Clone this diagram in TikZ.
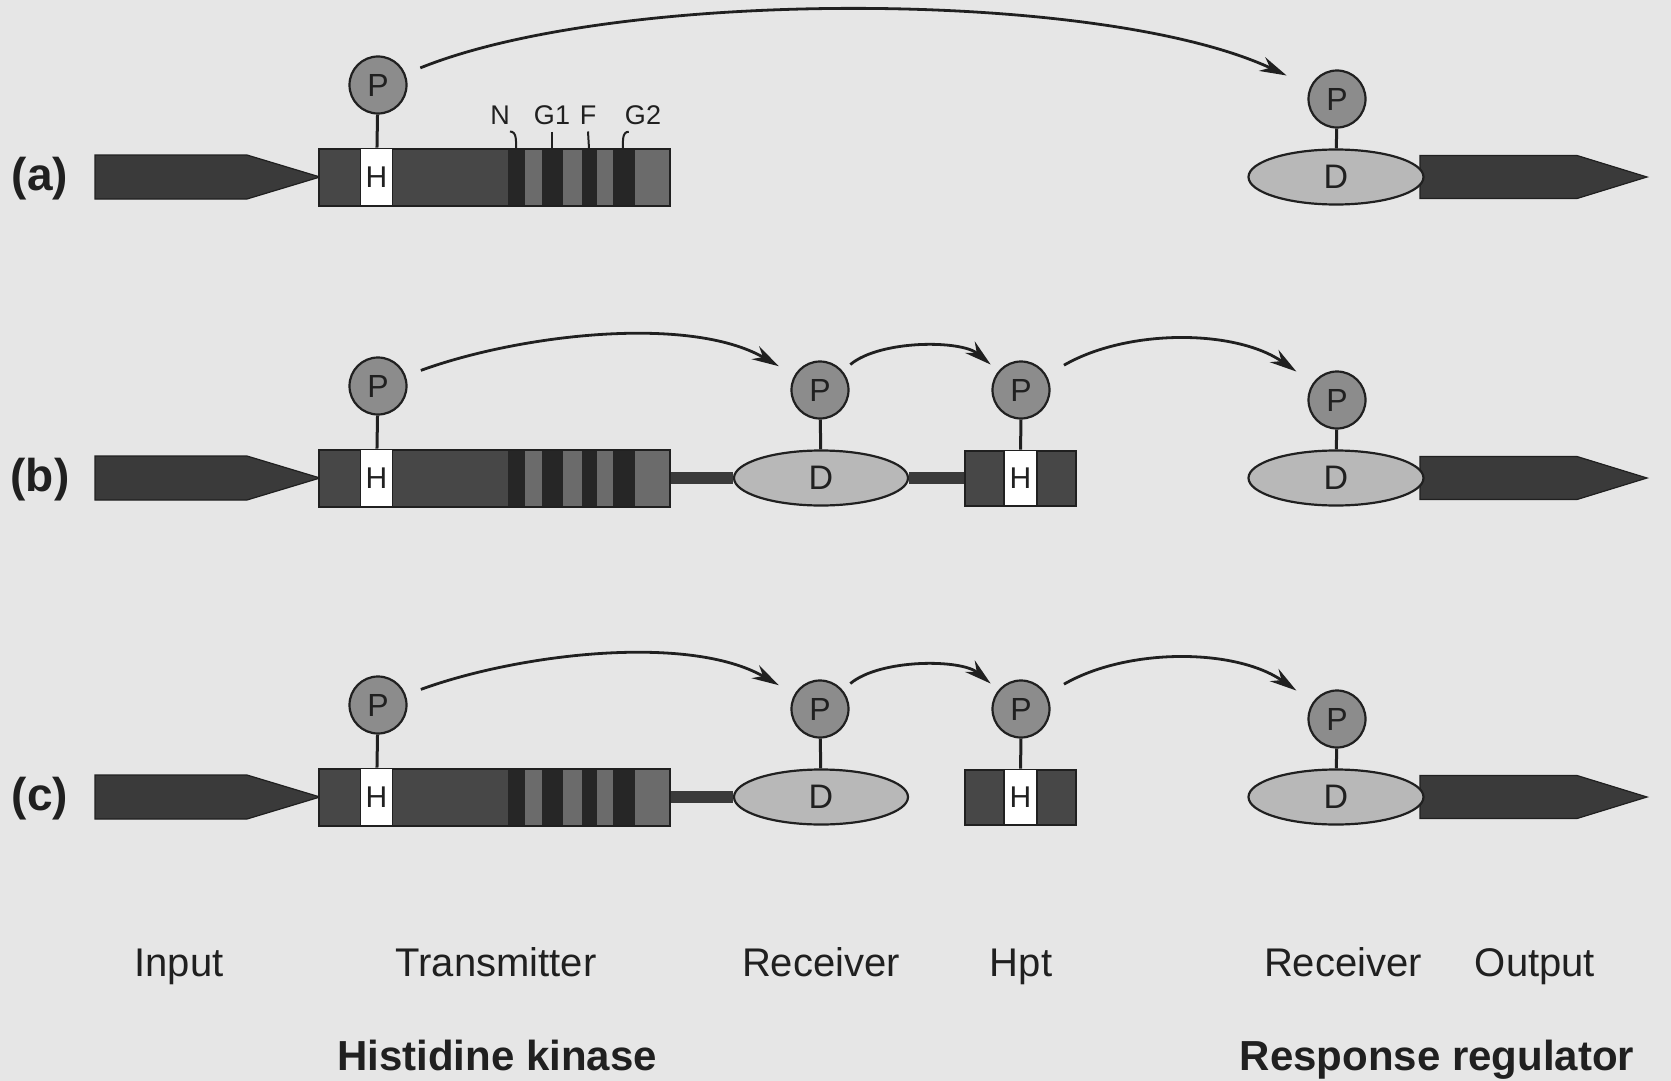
\documentclass[tikz,border=0pt]{standalone}
\usepackage{fontspec}
\setmainfont{Liberation Sans}
\usetikzlibrary{arrows.meta,shapes.geometric}
\definecolor{paper}{HTML}{E6E6E6}
\definecolor{ink}{HTML}{202020}
\definecolor{dkgrey}{HTML}{3A3A3A}
\definecolor{tmgrey}{HTML}{474747}
\definecolor{bandD}{HTML}{262626}
\definecolor{bandL}{HTML}{6B6B6B}
\definecolor{phosgrey}{HTML}{8C8C8C}
\definecolor{recvgrey}{HTML}{B8B8B8}

\begin{document}
\begin{tikzpicture}[
  x=1pt, y=1pt,
  every node/.style={text=ink},
  phos/.style={circle, draw=ink, line width=2.2pt, fill=phosgrey,
    minimum size=57pt, inner sep=0pt, font=\fontsize{32}{32}\selectfont},
  recv/.style={ellipse, draw=ink, line width=2.2pt, fill=recvgrey,
    minimum width=174pt, minimum height=55pt, inner sep=0pt,
    font=\fontsize{34}{34}\selectfont},
  tmbox/.style={rectangle, draw=ink, line width=2pt, fill=tmgrey,
    minimum width=351pt, minimum height=57pt, inner sep=0pt},
  hptbox/.style={tmbox, minimum width=111pt, minimum height=55pt},
  hbox/.style={rectangle, draw=ink, line width=1.8pt, fill=white,
    minimum width=32pt, minimum height=57pt, inner sep=0pt,
    font=\fontsize{30}{30}\selectfont},
  stem/.style={ink, line width=3pt},
  tick/.style={ink, line width=2pt},
  linker/.style={dkgrey, line width=12pt},
  flow/.style={ink, line width=2.8pt, -{Stealth[length=27pt,width=15pt]}},
  motif/.style={inner sep=0pt, font=\fontsize{27}{27}\selectfont},
  domlabel/.style={anchor=base, font=\fontsize{40}{44}\selectfont},
  grplabel/.style={anchor=base, font=\bfseries\fontsize{42}{46}\selectfont},
  rowlabel/.style={font=\bfseries\fontsize{46}{50}\selectfont}
]
\useasboundingbox (0,0) rectangle (1671,-1081);
\fill[paper] (0,0) rectangle (1671,-1081);

% Input, transmitter and response regulator, same in every row.
\foreach \r/\y in {a/-177,b/-478,c/-797}{
  \node[rowlabel] (lab\r) at (40,\y-2) {(\r)};
  \filldraw[fill=dkgrey, draw=ink, line width=1.2pt] (95,\y+22) -- (247,\y+22)
    -- (320,\y) -- (247,\y-22) -- (95,\y-22) -- cycle;
  \node[tmbox] (T\r) at (494.5,\y) {};
  \foreach \xa/\xb/\bc in {508/525/bandD, 525/542/bandL, 542/563/bandD,
      563/582/bandL, 582/597/bandD, 597/613/bandL, 613/635/bandD, 635/669/bandL}
    \fill[\bc] (\xa,\y-27.5) rectangle (\xb,\y+27.5);
  \node[hbox] (H\r) at (376.5,\y) {H};
  \node[phos] (P\r) at (378,\y+92) {P};
  \draw[stem] (P\r) -- (H\r);
  \filldraw[fill=dkgrey, draw=ink, line width=1.2pt] (1420,\y+21.5) -- (1577,\y+21.5)
    -- (1647,\y) -- (1577,\y-21.5) -- (1420,\y-21.5) -- cycle;
  \node[recv, minimum width=175pt] (RD\r) at (1336,\y) {D};
  \node[phos] (RP\r) at (1337,\y+78) {P};
  \draw[stem] (RP\r) -- (RD\r);
}

% Conserved boxes of the transmitter.
\node[motif] (mN) at (500,-115) {N};
\node[motif] (mG1) at (552,-115) {G1};
\node[motif] (mF) at (588,-115) {F};
\node[motif] (mG2) at (643,-115) {G2};
\coordinate (bN) at (516,-148.5);
\coordinate (bG1) at (552,-148.5);
\coordinate (bF) at (589,-148.5);
\coordinate (bG2) at (623,-148.5);
\draw[tick] ([yshift=-7pt]mN.south east) to[out=0,in=90] (bN);
\draw[tick] ([yshift=-7pt]mG1.south) -- (bG1);
\draw[tick] ([yshift=-7pt]mF.south) -- (bF);
\draw[tick] ([yshift=-7pt,xshift=4pt]mG2.south west) to[out=180,in=90] (bG2);

\draw[flow, shorten <=16pt, shorten >=26pt] (Pa) to[out=22,in=155,looseness=0.65] (RPa);

% Hybrid kinases: receiver and Hpt in the middle.
\foreach \r/\y in {b/-478,c/-797}{
  \node[recv] (D\r) at (821,\y) {D};
  \node[phos] (Q\r) at (820,\y+88) {P};
  \draw[stem] (Q\r) -- (D\r);
  \node[hptbox] (K\r) at (1020.5,\y) {};
  \node[hbox, minimum height=55pt, minimum width=33pt] (J\r) at (1020.5,\y) {H};
  \node[phos] (S\r) at (1021,\y+88) {P};
  \draw[stem] (S\r) -- (J\r);
  \draw[linker] (T\r.east) -- (D\r.west);
  \draw[flow, shorten <=16pt, shorten >=18pt] (P\r) to[out=20,in=150,looseness=0.8] (Q\r);
  \draw[flow, shorten <=10pt, shorten >=10pt] (Q\r) to[out=40,in=140,looseness=0.8] (S\r);
  \draw[flow, shorten <=20pt, shorten >=20pt] (S\r) to[out=30,in=145,looseness=0.9] (RP\r);
}
\draw[linker] (Db.east) -- (Kb.west);

% Domain names.
\node[domlabel] (tIn) at (179,-976) {Input};
\node[domlabel] (tTm) at (496,-976) {Transmitter};
\node[domlabel] (tRc) at (821,-976) {Receiver};
\node[domlabel] (tHp) at (1021,-976) {Hpt};
\node[domlabel] (tRr) at (1343,-976) {Receiver};
\node[domlabel] (tOut) at (1535,-976) {Output};
\node[grplabel] (gHK) at (497,-1070) {Histidine kinase};
\node[grplabel] (gRR) at (1437,-1070) {Response regulator};
\end{tikzpicture}
\end{document}
